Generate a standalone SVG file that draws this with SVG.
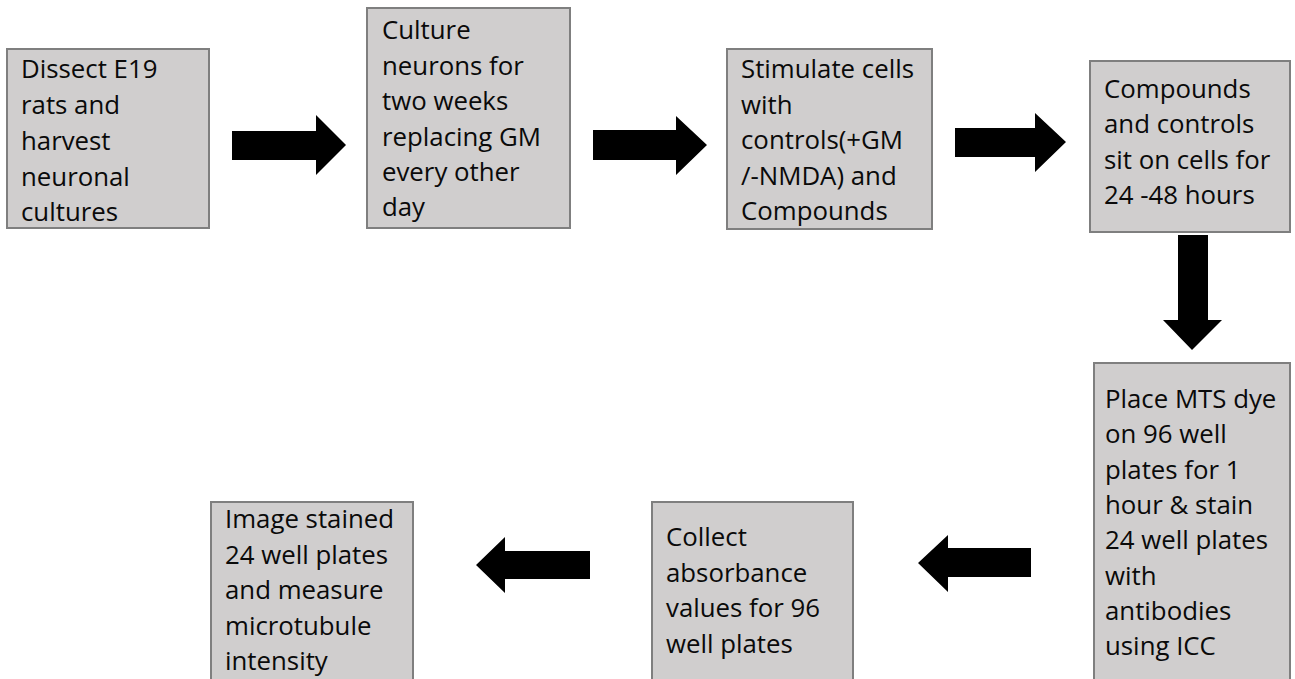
<svg xmlns="http://www.w3.org/2000/svg" width="1295" height="679" viewBox="0 0 1295 679">
<style>
.box{fill:#d0cece;stroke:#7f7f7f;stroke-width:2}
.t{font-family:"Open Sans","Liberation Sans",sans-serif;font-size:25.8px;fill:#0a0a0a}
.arr{fill:#000}
</style>
<rect width="1295" height="679" fill="#fff"/>
<g id="connectors">
<polygon class="arr" points="232,131 316,131 316,115 346,145 316,175 316,160 232,160"/>
<polygon class="arr" points="593,130 676,130 676,116 707,145 676,175 676,160 593,160"/>
<polygon class="arr" points="955,128 1035,128 1035,113 1066,142 1035,172 1035,157 955,157"/>
<polygon class="arr" points="1178,235 1208,235 1208,320 1222,320 1192,350 1163,320 1178,320"/>
<polygon class="arr" points="1031,548 948,548 948,535 918,563 948,592 948,577 1031,577"/>
<polygon class="arr" points="590,551 505,551 505,537 476,565 505,593 505,579 590,579"/>
</g>
<g id="n1">
<rect class="box" x="7" y="49" width="202" height="179"/>
<text class="t" x="21" y="78">Dissect E19</text>
<text class="t" x="21" y="114">rats and</text>
<text class="t" x="21" y="150">harvest</text>
<text class="t" x="21" y="186">neuronal</text>
<text class="t" x="21" y="221">cultures</text>
</g>
<g id="n2">
<rect class="box" x="367" y="8" width="203" height="220"/>
<text class="t" x="382" y="39">Culture</text>
<text class="t" x="382" y="75">neurons for</text>
<text class="t" x="382" y="110">two weeks</text>
<text class="t" x="382" y="146">replacing GM</text>
<text class="t" x="382" y="181">every other</text>
<text class="t" x="382" y="216">day</text>
</g>
<g id="n3">
<rect class="box" x="727" y="49" width="205" height="180"/>
<text class="t" x="741" y="78">Stimulate cells</text>
<text class="t" x="741" y="114">with</text>
<text class="t" x="741" y="149">controls(+GM</text>
<text class="t" x="741" y="185">/-NMDA) and</text>
<text class="t" x="741" y="220">Compounds</text>
</g>
<g id="n4">
<rect class="box" x="1090" y="61" width="200" height="171"/>
<text class="t" x="1104" y="98">Compounds</text>
<text class="t" x="1104" y="133">and controls</text>
<text class="t" x="1104" y="169">sit on cells for</text>
<text class="t" x="1104" y="204">24 -48 hours</text>
</g>
<g id="n5">
<rect class="box" x="1094" y="363" width="196" height="320"/>
<text class="t" x="1105" y="408">Place MTS dye</text>
<text class="t" x="1105" y="443">on 96 well</text>
<text class="t" x="1105" y="479">plates for 1</text>
<text class="t" x="1105" y="514">hour &amp; stain</text>
<text class="t" x="1105" y="549">24 well plates</text>
<text class="t" x="1105" y="585">with</text>
<text class="t" x="1105" y="620">antibodies</text>
<text class="t" x="1105" y="655">using ICC</text>
</g>
<g id="n6">
<rect class="box" x="652" y="502" width="201" height="181"/>
<text class="t" x="666" y="546">Collect</text>
<text class="t" x="666" y="582">absorbance</text>
<text class="t" x="666" y="617">values for 96</text>
<text class="t" x="666" y="653">well plates</text>
</g>
<g id="n7">
<rect class="box" x="211" y="502" width="202" height="181"/>
<text class="t" x="225" y="528">Image stained</text>
<text class="t" x="225" y="564">24 well plates</text>
<text class="t" x="225" y="599">and measure</text>
<text class="t" x="225" y="635">microtubule</text>
<text class="t" x="225" y="670">intensity</text>
</g>
</svg>
